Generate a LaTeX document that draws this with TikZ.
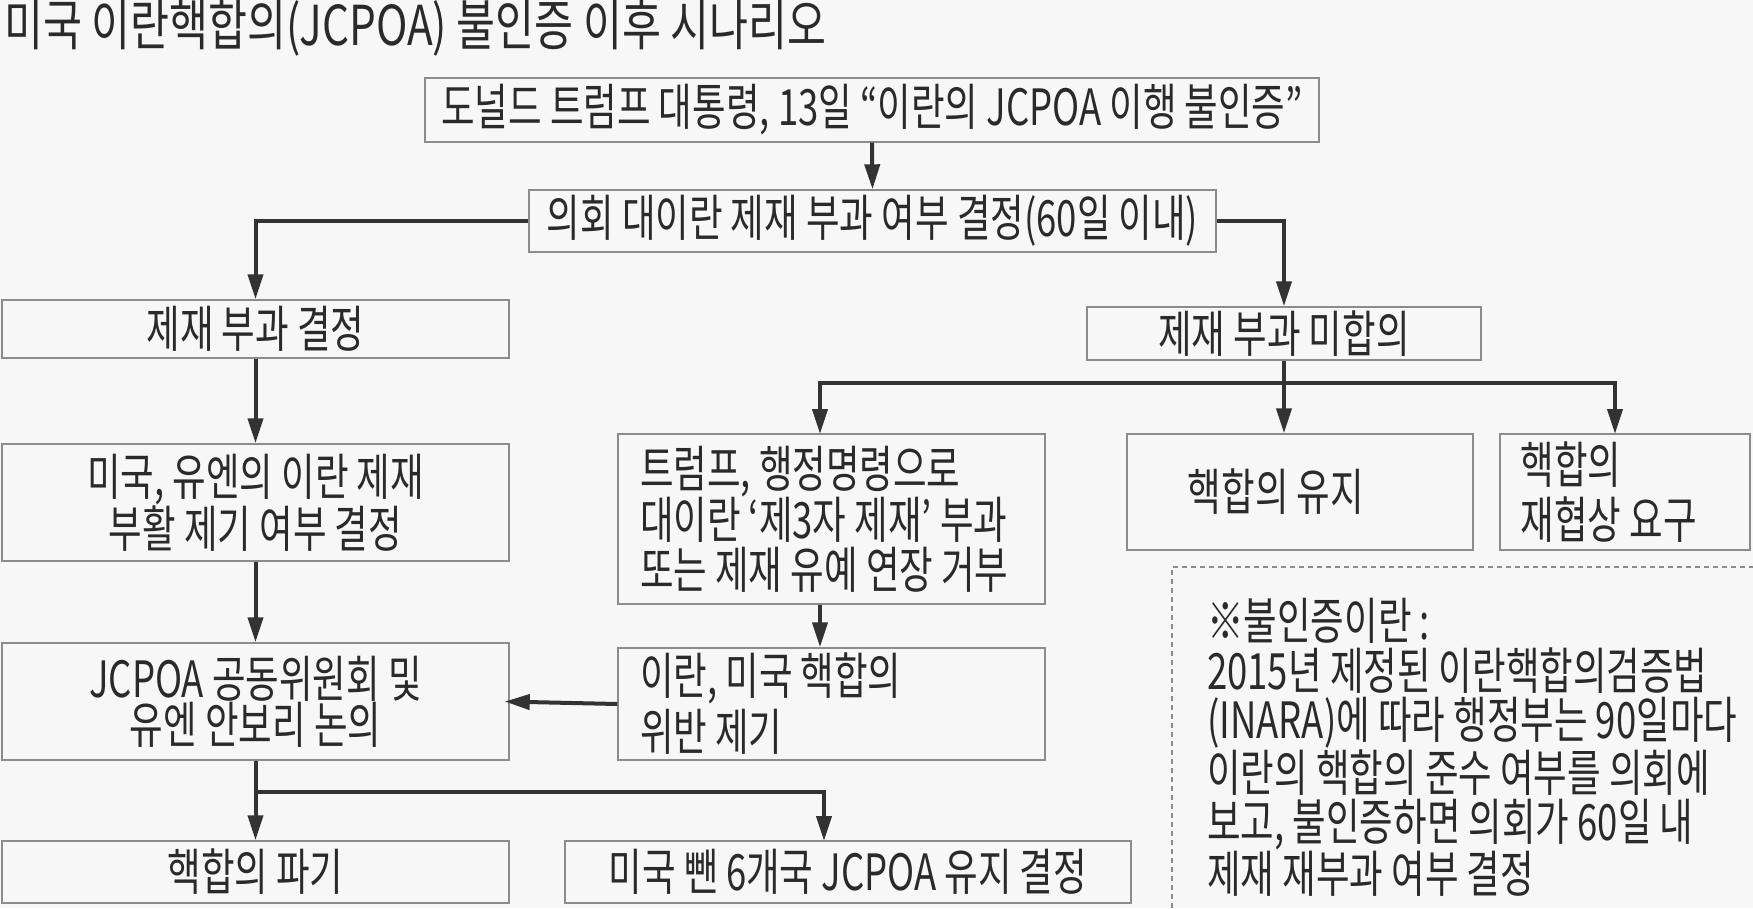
\documentclass[tikz,border=0pt]{standalone}
\usepackage{fontspec}
\usetikzlibrary{arrows.meta}
\newfontfamily\krfont[FakeStretch=0.73]{Noto Sans CJK KR}
\newfontfamily\krtitle[FakeStretch=0.77]{Noto Sans CJK KR}
\definecolor{bgcol}{HTML}{F7F7F7}
\definecolor{boxcol}{HTML}{8C8C8C}
\definecolor{arrcol}{HTML}{333333}
\definecolor{txtcol}{HTML}{2A2A2A}
\newcommand{\lline}[1]{\makebox[383pt][l]{#1}}
\newcommand{\rline}[1]{\makebox[209pt][l]{#1}}
\tikzset{
  boxnode/.style={draw=boxcol, line width=1.4pt, rectangle, inner sep=0pt, text=txtcol,
    font=\krfont\fontsize{50}{48}\selectfont, align=center},
  leftbox/.style={boxnode, align=left},
  conn/.style={draw=arrcol, line width=4pt},
  arr/.style={conn, -{Triangle[length=25pt,width=15pt]}},
}
\begin{document}
\begin{tikzpicture}[x=1pt,y=-1pt]
\useasboundingbox (0,0) rectangle (1753,908);
\fill[bgcol] (0,0) rectangle (1753,908);

\node[anchor=west, text=txtcol, font=\krtitle\fontsize{55}{60}\selectfont, inner sep=0pt] (title) at (4,28) {미국 이란핵합의(JCPOA) 불인증 이후 시나리오};

\node[boxnode, minimum width=894pt, minimum height=64pt] (b1) at (872,110) {도널드 트럼프 대통령, 13일 “이란의 JCPOA 이행 불인증”};
\node[boxnode, minimum width=687pt, minimum height=62pt] (b2) at (872.5,221) {의회 대이란 제재 부과 여부 결정(60일 이내)};
\node[boxnode, minimum width=507pt, minimum height=58pt] (b3) at (255.5,329) {제재 부과 결정};
\node[boxnode, minimum width=394pt, minimum height=53pt] (b4) at (1284,333.5) {제재 부과 미합의};
\node[boxnode, minimum width=507pt, minimum height=117pt, font=\krfont\fontsize{50}{46}\selectfont] (b5) at (255.5,502.5) {미국, 유엔의 이란 제재\\부활 제기 여부 결정};
\node[leftbox, minimum width=427pt, minimum height=170pt, font=\krfont\fontsize{50}{49.5}\selectfont] (b6) at (831.5,519) {\lline{트럼프, 행정명령으로}\\\lline{대이란 ‘제3자 제재’ 부과}\\\lline{또는 제재 유예 연장 거부}};
\node[boxnode, minimum width=346pt, minimum height=116pt] (b7) at (1300,492) {핵합의 유지\hspace{48pt}};
\node[leftbox, minimum width=250pt, minimum height=116pt, font=\krfont\fontsize{50}{55}\selectfont] (b8) at (1625,492) {\rline{핵합의}\\\rline{재협상 요구}};
\node[boxnode, minimum width=507pt, minimum height=117pt, font=\krfont\fontsize{50}{46}\selectfont] (b9) at (255.5,701.5) {JCPOA 공동위원회 및\\유엔 안보리 논의};
\node[leftbox, minimum width=427pt, minimum height=112pt, font=\krfont\fontsize{50}{56}\selectfont] (b10) at (831.5,704) {\lline{이란, 미국 핵합의}\\\lline{위반 제기}};
\node[boxnode, minimum width=507pt, minimum height=62pt] (b11) at (255.5,872) {핵합의 파기};
\node[boxnode, minimum width=566pt, minimum height=62pt] (b12) at (848,872) {미국 뺀 6개국 JCPOA 유지 결정};

% note
\draw[boxcol, line width=1.2pt, dash pattern=on 5pt off 4pt] (1172,908) -- (1172,567) -- (1753,567);
\node[anchor=north west, inner sep=0pt, text=txtcol, align=left, font=\krfont\fontsize{50}{49.6}\selectfont] (note) at (1207,598) {※불인증이란 :\\2015년 제정된 이란핵합의검증법\\(INARA)에 따라 행정부는 90일마다\\이란의 핵합의 준수 여부를 의회에\\보고, 불인증하면 의회가 60일 내\\제재 재부과 여부 결정};

% connectors
\draw[arr] (b1.south) -- (b2.north);
\draw[arr] (b2.west) -| (b3.north);
\draw[arr] (b2.east) -| (b4.north);
\coordinate (j1) at (b4.south |- 0,383);
\coordinate (c6) at (820,434);
\coordinate (c8) at (1615,434);
\draw[conn] (b4.south) -- (j1);
\draw[arr] (j1) -| (c6);
\draw[arr] (j1) -- (b4.south |- b7.north);
\draw[arr] (j1) -| (c8);
\draw[arr] (b3.south) -- (b5.north);
\draw[arr] (b5.south) -- (b9.north);
\draw[arr] (b6.south -| c6) -- (b10.north -| c6);
\draw[arr] (b10.west) -- ([xshift=-5pt]b9.east);
\coordinate (j2) at (b9.south |- 0,792);
\coordinate (c12) at (824,841);
\draw[conn] (b9.south) -- (j2);
\draw[arr] (j2) -- (b11.north);
\draw[arr] (j2) -| (c12);
\end{tikzpicture}
\end{document}
